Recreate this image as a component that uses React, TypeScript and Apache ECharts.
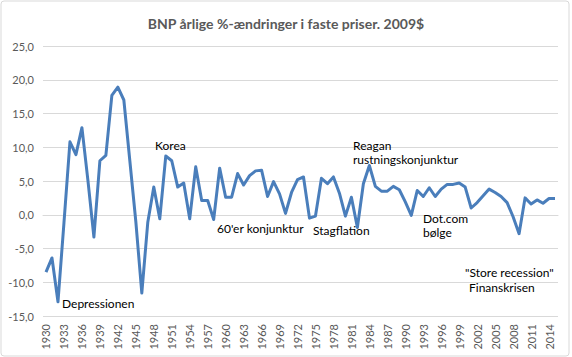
import React, { useEffect, useRef } from "react";
import * as echarts from "echarts";

const years: string[] = [];
for (let y = 1930; y <= 2015; y++) years.push(String(y));

const growth: number[] = [
  -8.5, -6.4, -12.9, -1.2, 10.8, 8.9, 12.9, 5.1, -3.3, 8.0,
  8.8, 17.7, 18.9, 17.0, 8.0, -1.0, -11.6, -1.1, 4.1, -0.6,
  8.7, 8.0, 4.1, 4.7, -0.6, 7.1, 2.1, 2.1, -0.7, 6.9,
  2.6, 2.6, 6.1, 4.4, 5.8, 6.5, 6.6, 2.7, 4.9, 3.1,
  0.2, 3.3, 5.2, 5.6, -0.5, -0.2, 5.4, 4.6, 5.6, 3.2,
  -0.2, 2.6, -1.9, 4.6, 7.3, 4.2, 3.5, 3.5, 4.2, 3.7,
  1.9, -0.1, 3.6, 2.7, 4.0, 2.7, 3.8, 4.5, 4.5, 4.7,
  4.1, 1.0, 1.8, 2.8, 3.8, 3.3, 2.7, 1.8, -0.3, -2.8,
  2.5, 1.6, 2.2, 1.7, 2.4, 2.4,
];

const titleText = "BNP årlige %-ændringer i faste priser. 2009$";

const annotations: { text: string; x: number; y: number }[] = [
  { text: "Depressionen", x: 62, y: 303 },
  { text: "Korea", x: 155, y: 145 },
  { text: "60'er konjunktur", x: 217, y: 228 },
  { text: "Stagflation", x: 313, y: 230 },
  { text: "Reagan", x: 353, y: 145 },
  { text: "rustningskonjunktur", x: 353, y: 159 },
  { text: "Dot.com", x: 423, y: 218 },
  { text: "bølge", x: 423, y: 232 },
  { text: "\"Store recession\"", x: 465, y: 272 },
  { text: "Finanskrisen", x: 469, y: 287 },
];

const FONT = "Lato, 'Open Sans', sans-serif";

export default function App() {
  const ref = useRef<HTMLDivElement>(null);
  useEffect(() => {
    if (!ref.current) return;
    const chart = echarts.init(ref.current, null, { renderer: "svg" });
    chart.setOption({
      animation: false,
      backgroundColor: "#ffffff",
      title: {
        text: titleText,
        left: "center",
        top: 11,
        textStyle: { fontFamily: FONT, fontSize: 14, fontWeight: "bold", color: "#595959" },
      },
      grid: { left: 43, right: 14, top: 46, bottom: 41, containLabel: false },
      xAxis: {
        type: "category",
        data: years,
        boundaryGap: true,
        axisLine: { show: true, lineStyle: { color: "#D9D9D9" } },
        axisTick: { show: false },
        axisLabel: {
          interval: 2,
          rotate: 90,
          margin: 8,
          color: "#595959",
          fontFamily: FONT,
          fontSize: 11,
        },
        splitLine: { show: false },
      },
      yAxis: {
        type: "value",
        min: -15,
        max: 25,
        interval: 5,
        axisLine: { show: false },
        axisTick: { show: false },
        axisLabel: {
          margin: 9,
          color: "#595959",
          fontFamily: FONT,
          fontSize: 11,
          formatter: (v: number) => v.toFixed(1).replace(".", ","),
        },
        splitLine: { lineStyle: { color: "#D9D9D9", width: 1 } },
      },
      series: [
        {
          type: "line",
          data: growth,
          symbol: "none",
          lineStyle: { color: "#4A7EBB", width: 3, join: "round" },
          itemStyle: { color: "#4A7EBB" },
        },
      ],
      graphic: [
        {
          type: "rect",
          shape: { x: 1, y: 1, width: 568, height: 355, r: 3 },
          style: { fill: "none", stroke: "#D9D9D9", lineWidth: 1 },
          z: 0,
        },
        ...annotations.map((a) => ({
          type: "text",
          x: a.x,
          y: a.y,
          style: {
            text: a.text,
            fill: "#000000",
            font: `12px ${FONT}`,
            textVerticalAlign: "middle",
            verticalAlign: "middle",
          },
          z: 10,
        })),
      ],
    });
    return () => chart.dispose();
  }, []);
  return (
    <div
      ref={ref}
      style={{ position: "fixed", left: 0, top: 0, width: 572, height: 357 }}
    />
  );
}
